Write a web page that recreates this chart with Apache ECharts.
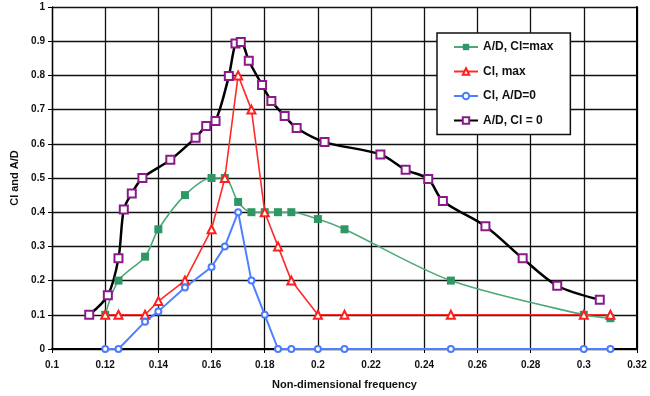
<!DOCTYPE html>
<html>
<head>
<meta charset="utf-8">
<script src="https://cdn.jsdelivr.net/npm/echarts@6/dist/echarts.min.js"></script>
<style>
  html, body { margin: 0; padding: 0; background: #fff; }
  #chart { width: 650px; height: 396px; }
</style>
</head>
<body>
<div id="chart"></div>
<script>
// A/D at Cl = max
const freqAdClmax = [0.12, 0.125, 0.135, 0.14, 0.15, 0.16, 0.165, 0.17, 0.175, 0.18, 0.185, 0.19, 0.2, 0.21, 0.25, 0.3, 0.31];
const adClmax = [0.1, 0.2, 0.27, 0.35, 0.45, 0.5, 0.5, 0.43, 0.4, 0.4, 0.4, 0.4, 0.38, 0.35, 0.2, 0.1, 0.09];

// Cl max
const freqClmax = [0.12, 0.125, 0.135, 0.14, 0.15, 0.16, 0.165, 0.17, 0.175, 0.18, 0.185, 0.19, 0.2, 0.21, 0.25, 0.3, 0.31];
const clmax = [0.1, 0.1, 0.1, 0.14, 0.2, 0.35, 0.5, 0.8, 0.7, 0.4, 0.3, 0.2, 0.1, 0.1, 0.1, 0.1, 0.1];

// Cl at A/D = 0
const freqClAd0 = [0.12, 0.125, 0.135, 0.14, 0.15, 0.16, 0.165, 0.17, 0.175, 0.18, 0.185, 0.19, 0.2, 0.21, 0.25, 0.3, 0.31];
const clAd0 = [0, 0, 0.08, 0.11, 0.18, 0.24, 0.3, 0.4, 0.2, 0.1, 0, 0, 0, 0, 0, 0, 0];

// A/D at Cl = 0
const freqAdCl0 = [0.114, 0.121, 0.125, 0.127, 0.13, 0.134, 0.1445, 0.154, 0.158, 0.1615, 0.1665, 0.169, 0.171, 0.174, 0.179, 0.1825, 0.1875, 0.192, 0.2025, 0.2235, 0.233, 0.2415, 0.247, 0.263, 0.277, 0.29, 0.306];
const adCl0 = [0.1, 0.157, 0.265, 0.408, 0.455, 0.5, 0.553, 0.618, 0.652, 0.667, 0.798, 0.893, 0.898, 0.843, 0.772, 0.725, 0.681, 0.646, 0.605, 0.569, 0.524, 0.497, 0.433, 0.359, 0.265, 0.185, 0.144];

const seriesNames = ['A/D, Cl=max', 'Cl, max', 'Cl, A/D=0', 'A/D, Cl = 0'];

const zip = (xs, ys) => xs.map((x, i) => [x, ys[i]]);
const font = 'Liberation Sans, Arial, sans-serif';

const chart = echarts.init(document.getElementById('chart'));
chart.setOption({
  animation: false,
  grid: { left: 52, right: 13, top: 7, bottom: 47 },
  legend: {
    orient: 'vertical',
    left: 437,
    top: 33,
    padding: [7, 17, 7, 16],
    itemGap: 10.5,
    itemWidth: 24,
    itemHeight: 8,
    backgroundColor: '#fff',
    borderColor: '#111',
    borderWidth: 1.5,
    borderRadius: 0,
    textStyle: { fontFamily: font, fontWeight: 'bold', fontSize: 12, color: '#111', lineHeight: 14 },
    data: seriesNames
  },
  xAxis: {
    type: 'value',
    min: 0.1,
    max: 0.32,
    interval: 0.02,
    name: 'Non-dimensional frequency',
    nameLocation: 'middle',
    nameGap: 30,
    nameTextStyle: { fontFamily: font, fontWeight: 'bold', fontSize: 11, color: '#111' },
    axisLine: { lineStyle: { color: '#000', width: 2 } },
    axisTick: { length: 4, lineStyle: { color: '#000' } },
    axisLabel: {
      margin: 11,
      fontFamily: font, fontWeight: 'bold', fontSize: 10, color: '#111',
      formatter: v => String(+v.toFixed(2))
    },
    splitLine: { lineStyle: { color: '#111', width: 1.3 } }
  },
  yAxis: [{
    type: 'value',
    min: 0,
    max: 1,
    interval: 0.1,
    name: 'Cl and A/D',
    nameLocation: 'middle',
    nameGap: 27,
    nameTextStyle: { fontFamily: font, fontWeight: 'bold', fontSize: 11, color: '#111' },
    axisLine: { show: true, lineStyle: { color: '#000', width: 1.3 } },
    axisTick: { show: true, length: 4, lineStyle: { color: '#000' } },
    axisLabel: {
      margin: 7,
      fontFamily: font, fontWeight: 'bold', fontSize: 10, color: '#111',
      formatter: v => String(+v.toFixed(1))
    },
    splitLine: { lineStyle: { color: '#111', width: 1.3 } }
  }, {
    type: 'value',
    position: 'right',
    min: 0,
    max: 1,
    axisLine: { show: true, lineStyle: { color: '#000', width: 2 } },
    axisTick: { show: false },
    axisLabel: { show: false },
    splitLine: { show: false }
  }],
  series: [{
    name: seriesNames[0],
    type: 'line',
    smooth: 0.3,
    data: zip(freqAdClmax, adClmax),
    symbol: 'rect',
    symbolSize: 8,
    itemStyle: { color: '#2f9763' },
    lineStyle: { color: '#4ea87a', width: 1.6 }
  }, {
    name: seriesNames[1],
    type: 'line',
    data: zip(freqClmax, clmax),
    symbol: 'emptyTriangle',
    symbolSize: 8,
    itemStyle: { color: '#ff1f1f', borderWidth: 1.2 },
    lineStyle: { color: '#ff2a2a', width: 1.6 }
  }, {
    name: seriesNames[2],
    type: 'line',
    data: zip(freqClAd0, clAd0),
    symbol: 'emptyCircle',
    symbolSize: 6,
    itemStyle: { color: '#4b7cff', borderWidth: 1.2 },
    lineStyle: { color: '#4f80ff', width: 2 }
  }, {
    name: seriesNames[3],
    type: 'line',
    smooth: 0.3,
    data: zip(freqAdCl0, adCl0),
    symbol: 'emptyRect',
    symbolSize: 8,
    itemStyle: { color: '#8a1a8a', borderWidth: 1.3 },
    lineStyle: { color: '#000', width: 2.5 }
  }]
});
</script>
</body>
</html>
